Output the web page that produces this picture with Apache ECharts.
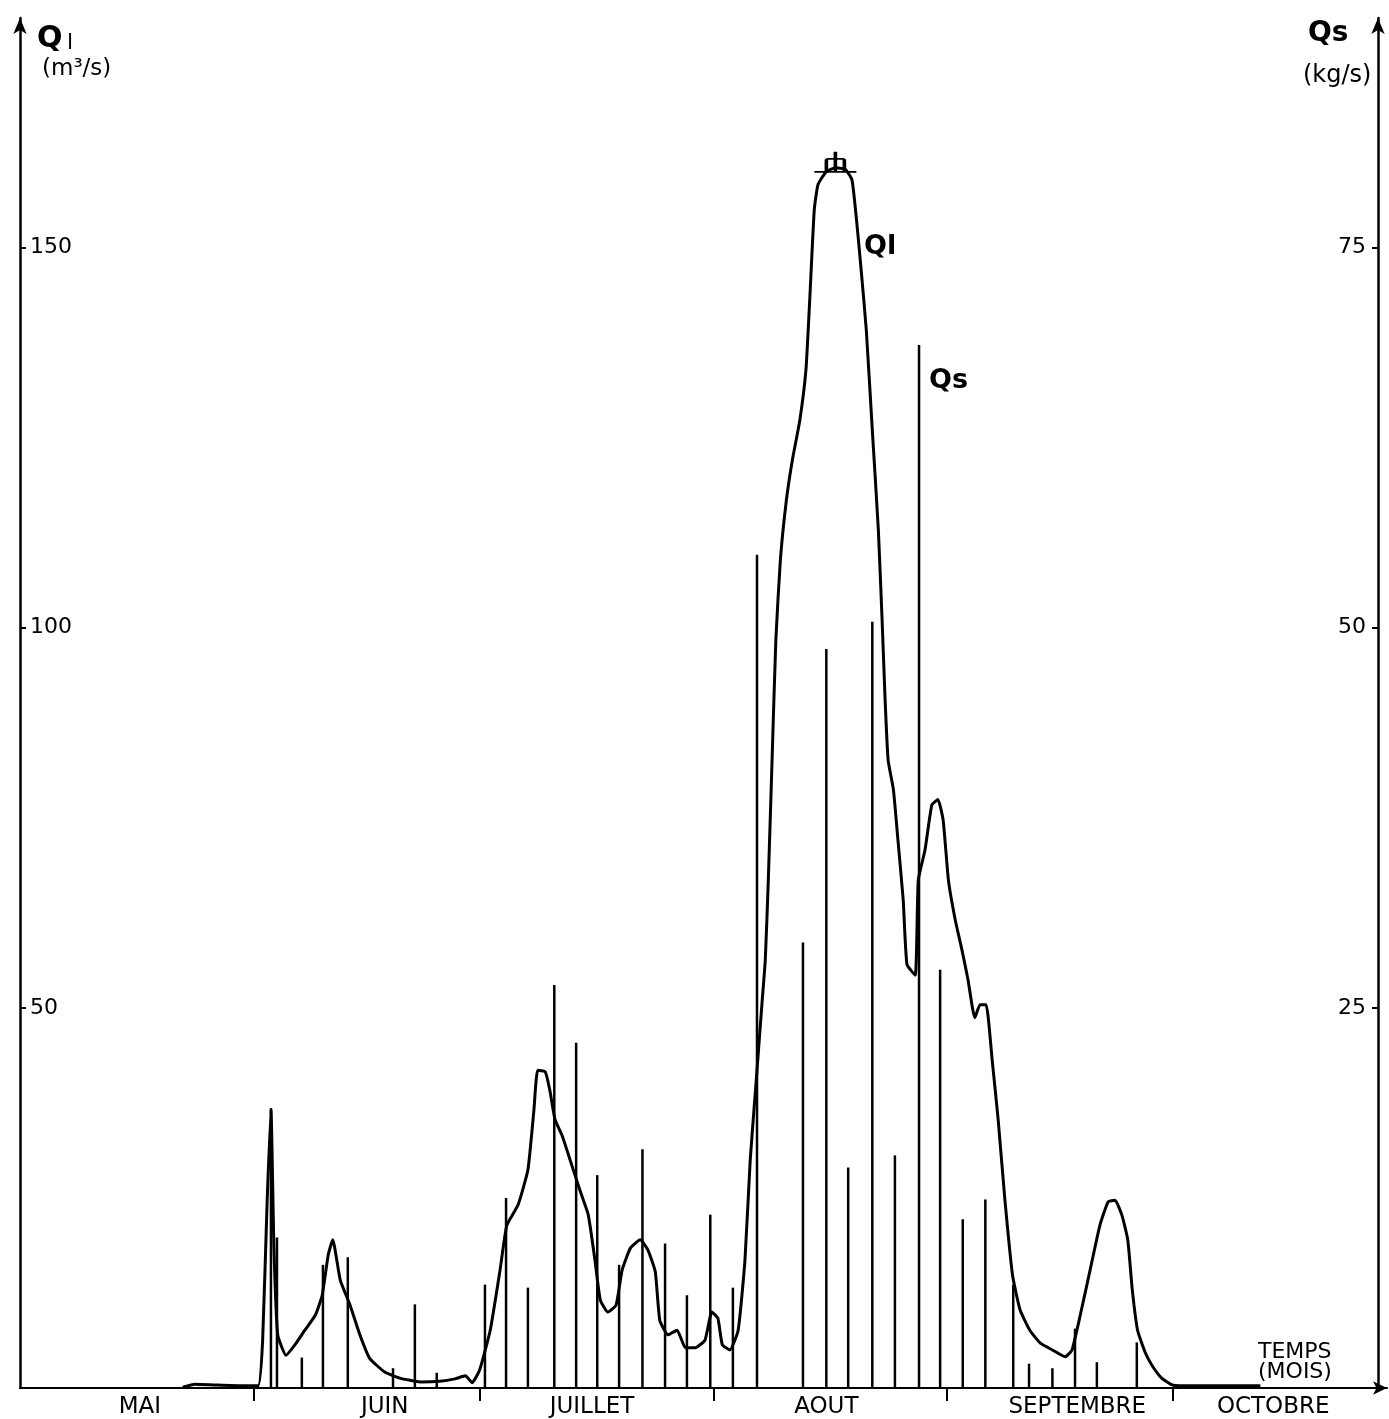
<!DOCTYPE html>
<html>
<head>
<meta charset="utf-8">
<script src="https://cdn.jsdelivr.net/npm/echarts@6/dist/echarts.min.js"></script>
<style>
  html, body { margin: 0; padding: 0; background: #fff; }
  #chart { width: 1389px; height: 1419px; }
</style>
</head>
<body>
<div id="chart"></div>
<script>
// Time is counted in days from 1 May; the hydrograph runs May to October.
const monthTickDays = [31, 61, 92, 123, 153];
const monthLabelDays = [15.9, 48.4, 75.9, 107, 140.3, 166.3];
const monthNames = ['MAI', 'JUIN', 'JUILLET', 'AOUT', 'SEPTEMBRE', 'OCTOBRE'];
const qlTicks = [50, 100, 150];
const qsTicks = [25, 50, 75];

// Liquid discharge Ql (m3/s)
const qlDays = [
  21.6, 23.2, 25.9, 29.2, 31.6, 32.2, 32.8, 33.3, 33.7, 34.2, 35.3, 36.5, 37.8, 39.2, 40.1, 40.9,
  41.5, 42.5, 43.8, 45.1, 46.4, 48.4, 50.4, 53.1, 55.7, 57.7, 59.1, 60.0, 61.0, 62.4, 63.7, 64.6,
  66.1, 67.4, 68.2, 68.7, 69.7, 70.3, 71.0, 71.9, 73.0, 74.3, 75.4, 76.3, 77.0, 78.0, 79.1, 79.9,
  81.0, 82.3, 83.3, 84.3, 84.9, 86.0, 87.2, 88.3, 89.6, 90.9, 91.8, 92.6, 93.2, 94.2, 95.3, 96.2,
  96.9, 97.7, 98.5, 98.9, 99.3, 99.8, 100.3, 100.9, 101.7, 102.5, 103.5, 104.3, 104.8, 105.4, 105.9,
  107.0, 108.2, 109.5, 110.4, 111.0, 111.5, 112.3, 113.1, 113.9, 114.4, 114.8, 115.2, 115.9, 116.5,
  117.2, 117.7, 118.8, 119.2, 120.1, 121.0, 121.8, 122.5, 123.2, 124.1, 125.0, 125.8, 126.7, 127.4,
  128.2, 129.0, 129.8, 130.7, 131.7, 132.7, 134.0, 135.4, 137.0, 138.7, 139.6, 140.7, 142.0, 143.3,
  144.4, 145.3, 146.2, 147.0, 147.6, 148.3, 149.3, 150.2, 151.5, 152.9, 153.9, 159.3, 164.6
];
const qlValues = [
  0.1, 0.5, 0.4, 0.3, 0.3, 6.3, 24.7, 36.6, 18.2, 7.0, 4.3, 5.7, 7.6, 9.6, 12.2, 17.5,
  19.5, 14.2, 10.9, 7.0, 3.9, 2.1, 1.3, 0.8, 0.9, 1.2, 1.6, 0.7, 2.4, 7.6, 15.5, 21.4,
  24.1, 28.7, 36.6, 41.8, 41.6, 39.2, 35.3, 33.3, 30.0, 26.0, 22.8, 16.8, 11.6, 10.0, 10.9, 15.5,
  18.4, 19.5, 18.2, 15.3, 8.9, 7.0, 7.6, 5.3, 5.3, 6.3, 10.0, 9.2, 5.7, 5.0, 7.6, 16.8,
  30.0, 40.5, 51.1, 56.3, 66.8, 82.6, 98.4, 108.9, 116.8, 122.1, 127.4, 134.0, 143.2, 155.0, 158.3,
  160.0, 160.5, 160.3, 158.9, 153.7, 148.4, 139.2, 126.0, 112.9, 101.0, 90.5, 82.6, 78.7, 72.1,
  64.2, 55.7, 54.3, 66.8, 70.8, 76.7, 77.4, 74.7, 66.8, 61.6, 57.6, 53.7, 48.7, 50.4,
  50.4, 43.2, 35.3, 24.7, 14.9, 10.3, 7.6, 5.9, 5.0, 4.1, 5.0, 9.6, 15.5, 21.4,
  24.5, 24.7, 22.8, 19.5, 12.9, 7.6, 4.7, 3.0, 1.3, 0.4, 0.3, 0.3, 0.3
];

// Solid discharge Qs (kg/s), sampled measurements
const qsDays = [
  33.3, 34.1, 37.4, 40.2, 43.5, 49.5, 52.4, 55.3, 61.7, 64.5, 67.4, 70.9, 73.8, 76.6, 79.5,
  82.6, 85.6, 88.5, 91.6, 94.6, 97.8, 103.9, 107.0, 109.9, 113.1, 116.1, 119.3, 122.1, 125.1,
  128.1, 131.8, 133.9, 137.0, 140.0, 142.9, 148.2
];
const qsValues = [
  18.4, 9.9, 2.0, 8.1, 8.6, 1.3, 5.5, 1.0, 6.8, 12.5, 6.6, 26.5, 22.7, 14.0, 8.1,
  15.7, 9.5, 6.1, 11.4, 6.6, 54.8, 29.3, 48.6, 14.5, 50.4, 15.3, 68.6, 27.5, 11.1,
  12.4, 6.8, 1.6, 1.3, 3.9, 1.7, 3.0
];

const qlData = qlDays.map((d, i) => [d, qlValues[i]]);
const qsData = qsDays.map((d, i) => [d, qsValues[i]]);

const FONT = "'DejaVu Sans', sans-serif";
const chart = echarts.init(document.getElementById('chart'), null, { renderer: 'canvas' });

const yAxisBase = {
  type: 'value',
  min: 0,
  splitLine: { show: false },
  axisLine: {
    show: true,
    lineStyle: { color: '#000', width: 2.5 },
    symbol: ['none', 'arrow'],
    symbolSize: [10, 16]
  }
};

chart.setOption({
  backgroundColor: '#ffffff',
  animation: false,
  grid: { left: 20, right: 2, top: 18, bottom: 31, containLabel: false },
  xAxis: {
    type: 'value',
    min: 0,
    max: 181.4,
    splitLine: { show: false },
    axisLine: {
      lineStyle: { color: '#000', width: 2 },
      symbol: ['none', 'arrow'],
      symbolSize: [10, 14]
    },
    axisTick: {
      show: true,
      customValues: monthTickDays,
      length: 13,
      lineStyle: { color: '#000', width: 2 }
    },
    axisLabel: {
      customValues: monthLabelDays,
      formatter: v => monthNames[monthLabelDays.indexOf(v)] || '',
      color: '#000',
      fontFamily: FONT,
      fontSize: 23,
      margin: 8
    }
  },
  yAxis: [
    Object.assign({}, yAxisBase, {
      max: 180.2,
      axisTick: {
        show: true, inside: true, length: 6, customValues: qlTicks,
        lineStyle: { color: '#000', width: 2 }
      },
      axisLabel: {
        inside: true,
        customValues: qlTicks,
        color: '#000',
        fontFamily: FONT,
        fontSize: 22,
        margin: 10,
        verticalAlign: 'middle',
        padding: [0, 0, 9, 0]
      }
    }),
    Object.assign({}, yAxisBase, {
      position: 'right',
      offset: -9,
      max: 90.1,
      axisTick: {
        show: true, inside: true, length: 6, customValues: qsTicks,
        lineStyle: { color: '#000', width: 2 }
      },
      axisLabel: {
        inside: true,
        customValues: qsTicks,
        color: '#000',
        fontFamily: FONT,
        fontSize: 22,
        margin: 12
      }
    })
  ],
  series: [
    {
      name: 'Qs',
      type: 'bar',
      yAxisIndex: 1,
      data: qsData,
      barWidth: 2.5,
      itemStyle: { color: '#000' },
      z: 2
    },
    {
      name: 'Ql',
      type: 'line',
      yAxisIndex: 0,
      data: qlData,
      showSymbol: false,
      smooth: 0.15,
      lineStyle: { color: '#000', width: 3, join: 'round' },
      z: 3,
      markPoint: {
        data: [{ type: 'max' }],
        symbol: 'path://M0,20 L42,20 M21,0 L21,20 M12,20 L12,9 Q12,7 14,7 L28,7 Q30,7 30,9 L30,20',
        symbolSize: [42, 20],
        symbolOffset: [0, -6],
        itemStyle: { color: 'rgba(0,0,0,0)', borderColor: '#000', borderWidth: 2.5 },
        label: { show: false }
      }
    }
  ],
  graphic: [
    { type: 'text', left: 37, top: 24, style: { text: 'Q', font: 'bold 30px ' + FONT, fill: '#000' } },
    { type: 'text', left: 67, top: 32, style: { text: 'l', font: '22px ' + FONT, fill: '#000' } },
    { type: 'text', left: 42, top: 58, style: { text: '(m³/s)', font: '23px ' + FONT, fill: '#000' } },
    { type: 'text', left: 1308, top: 20, style: { text: 'Qs', font: 'bold 28px ' + FONT, fill: '#000' } },
    { type: 'text', left: 1303, top: 64, style: { text: '(kg/s)', font: '24px ' + FONT, fill: '#000' } },
    { type: 'text', left: 864, top: 233, style: { text: 'Ql', font: 'bold 27px ' + FONT, fill: '#000' } },
    { type: 'text', left: 929, top: 367, style: { text: 'Qs', font: 'bold 27px ' + FONT, fill: '#000' } },
    { type: 'text', left: 1258, top: 1341, style: { text: 'TEMPS', font: '22px ' + FONT, fill: '#000' } },
    { type: 'text', left: 1258, top: 1361, style: { text: '(MOIS)', font: '22px ' + FONT, fill: '#000' } }
  ]
});
</script>
</body>
</html>
